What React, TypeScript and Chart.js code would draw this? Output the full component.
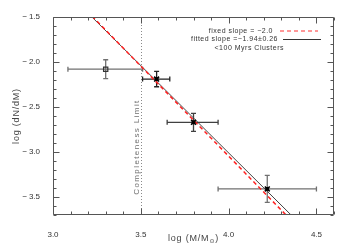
import { useEffect, useRef } from "react";
import { Chart, registerables } from "chart.js";

Chart.register(...registerables);

// ---- data ----
const clusterLogMass = [3.3, 3.59, 3.8, 4.22];
const clusterLogDNdM = [-2.08, -2.19, -2.67, -3.41];
const massErrLow = [3.085, 3.51, 3.65, 3.94];
const massErrHigh = [3.51, 3.665, 3.94, 4.5];
const dndmErr = [0.105, 0.085, 0.1, 0.15];
const errColors = ["#707070", "#222222", "#404040", "#707070"];
const openMarker = [true, false, false, false];

const fixedSlope = -2.0;
const fixedIntercept = 4.954;
const fittedSlope = -1.94;
const fittedIntercept = 4.75;
const completenessLimit = 3.5;

const xRange = [3.0, 4.6];
const yRange = [-3.7, -1.5];
const xTicks = [3.0, 3.5, 4.0, 4.5];
const yTicks = [-3.5, -3.0, -2.5, -2.0, -1.5];
const minorStep = 0.1;

const legendLabels = ["fixed slope = \u22122.0", "fitted slope =\u22121.94\u00b10.26", "<100 Myrs Clusters"];
const xTitleParts = ["log (M/M", "\u2299", ")"];
const yTitle = "log (dN/dM)";
const limitLabel = "Completeness Limit";

const FONT = "'Liberation Sans', 'DejaVu Sans', sans-serif";
const SYMFONT = "'DejaVu Sans', sans-serif";
const fmt = (v: number) => (v < 0 ? "\u2212\u2009" : "") + Math.abs(v).toFixed(1);

const decorPlugin = {
  id: "decor",
  beforeDatasetsDraw(chart: any) {
    const { ctx, chartArea, scales } = chart;
    const { top, bottom } = chartArea;
    const x = scales.x;
    const y = scales.y;
    ctx.save();
    // completeness limit
    const cx = Math.round(x.getPixelForValue(completenessLimit)) + 0.5;
    ctx.strokeStyle = "#8a8a8a";
    ctx.lineWidth = 1;
    ctx.setLineDash([1, 2]);
    ctx.beginPath();
    ctx.moveTo(cx, bottom);
    ctx.lineTo(cx, top);
    ctx.stroke();
    ctx.setLineDash([]);
    ctx.save();
    ctx.translate(cx - 5, (top + bottom) / 2 + 31);
    ctx.rotate(-Math.PI / 2);
    ctx.fillStyle = "#707070";
    ctx.font = `8px ${FONT}`;
    (ctx as any).letterSpacing = "1.4px";
    ctx.textAlign = "center";
    ctx.textBaseline = "middle";
    ctx.fillText(limitLabel, 0, 0);
    ctx.restore();
    // error bars
    for (let i = 0; i < clusterLogMass.length; i++) {
      ctx.strokeStyle = errColors[i];
      ctx.lineWidth = 1.3;
      const px = x.getPixelForValue(clusterLogMass[i]);
      const py = y.getPixelForValue(clusterLogDNdM[i]);
      const xl = x.getPixelForValue(massErrLow[i]);
      const xh = x.getPixelForValue(massErrHigh[i]);
      const yl = y.getPixelForValue(clusterLogDNdM[i] - dndmErr[i]);
      const yh = y.getPixelForValue(clusterLogDNdM[i] + dndmErr[i]);
      const c = 2.5;
      ctx.beginPath();
      ctx.moveTo(xl, py); ctx.lineTo(xh, py);
      ctx.moveTo(xl, py - c); ctx.lineTo(xl, py + c);
      ctx.moveTo(xh, py - c); ctx.lineTo(xh, py + c);
      ctx.moveTo(px, yl); ctx.lineTo(px, yh);
      ctx.moveTo(px - c, yl); ctx.lineTo(px + c, yl);
      ctx.moveTo(px - c, yh); ctx.lineTo(px + c, yh);
      ctx.stroke();
    }
    ctx.restore();
  },
  afterDraw(chart: any) {
    const { ctx, chartArea, scales } = chart;
    const { left, right, top, bottom } = chartArea;
    const x = scales.x;
    const y = scales.y;
    ctx.save();
    ctx.strokeStyle = "#555";
    ctx.lineWidth = 1;
    const L = Math.round(left) + 0.5, R = Math.round(right) - 0.5;
    const T = Math.round(top) + 0.5, B = Math.round(bottom) - 0.5;
    ctx.beginPath();
    ctx.rect(L, T, R - L, B - T);
    ctx.stroke();
    ctx.beginPath();
    const nx = Math.round((xRange[1] - xRange[0]) / minorStep);
    for (let k = 0; k <= nx; k++) {
      const v = xRange[0] + k * minorStep;
      const major = xTicks.some((t) => Math.abs(t - v) < 1e-6);
      const len = major ? 6 : 3;
      const p = Math.round(x.getPixelForValue(v)) + 0.5;
      ctx.moveTo(p, B); ctx.lineTo(p, B - len);
      ctx.moveTo(p, T); ctx.lineTo(p, T + len);
    }
    const ny = Math.round((yRange[1] - yRange[0]) / minorStep);
    for (let k = 0; k <= ny; k++) {
      const v = yRange[0] + k * minorStep;
      const major = yTicks.some((t) => Math.abs(t - v) < 1e-6);
      const len = major ? 6 : 3;
      const p = Math.round(y.getPixelForValue(v)) + 0.5;
      ctx.moveTo(L, p); ctx.lineTo(L + len, p);
      ctx.moveTo(R, p); ctx.lineTo(R - len, p);
    }
    ctx.stroke();

    // legend
    ctx.font = `7px ${FONT}`;
    (ctx as any).letterSpacing = "0.5px";
    ctx.fillStyle = "#333";
    ctx.textAlign = "right";
    ctx.textBaseline = "middle";
    const rows = [31, 39.5, 48];
    const textRight = [273, 278, 284];
    legendLabels.forEach((t, i) => ctx.fillText(t, textRight[i], rows[i]));
    ctx.strokeStyle = "#ff3030";
    ctx.setLineDash([4, 3]);
    ctx.beginPath(); ctx.moveTo(280, rows[0]); ctx.lineTo(318, rows[0]); ctx.stroke();
    ctx.setLineDash([]);
    ctx.strokeStyle = "#333";
    ctx.beginPath(); ctx.moveTo(283, rows[1]); ctx.lineTo(321, rows[1]); ctx.stroke();

    // axis titles
    (ctx as any).letterSpacing = "0.8px";
    ctx.fillStyle = "#444";
    ctx.textAlign = "left";
    ctx.textBaseline = "alphabetic";
    ctx.font = `9px ${FONT}`;
    const w0 = ctx.measureText(xTitleParts[0]).width;
    ctx.font = `6px ${SYMFONT}`;
    const w1 = ctx.measureText(xTitleParts[1]).width;
    ctx.font = `9px ${FONT}`;
    const w2 = ctx.measureText(xTitleParts[2]).width;
    const cxT = (left + right) / 2;
    let sx = cxT - (w0 + w1 + w2) / 2;
    const by = 241;
    ctx.fillText(xTitleParts[0], sx, by);
    sx += w0;
    ctx.font = `6px ${SYMFONT}`;
    ctx.fillText(xTitleParts[1], sx, by + 2);
    sx += w1;
    ctx.font = `9px ${FONT}`;
    ctx.fillText(xTitleParts[2], sx, by);

    ctx.save();
    ctx.translate(17, 116);
    ctx.rotate(-Math.PI / 2);
    ctx.textAlign = "center";
    ctx.textBaseline = "middle";
    ctx.fillText(yTitle, 0, 0);
    ctx.restore();
    ctx.restore();
  },
};

const lineX = [xRange[0], xRange[1]];

export default function App() {
  const ref = useRef<HTMLCanvasElement>(null);
  useEffect(() => {
    document.body.style.margin = "0";
    const filledIdx = clusterLogMass.map((_, i) => i).filter((i) => !openMarker[i]);
    const openIdx = clusterLogMass.map((_, i) => i).filter((i) => openMarker[i]);
    const chart = new Chart(ref.current!, {
      type: "scatter",
      data: {
        datasets: [
          {
            data: filledIdx.map((i) => ({ x: clusterLogMass[i], y: clusterLogDNdM[i] })),
            pointStyle: "rect",
            pointRadius: 2,
            backgroundColor: "#000",
            borderColor: "#000",
            borderWidth: 1,
            order: 0,
          },
          {
            data: filledIdx.map((i) => ({ x: clusterLogMass[i], y: clusterLogDNdM[i] })),
            pointStyle: "crossRot",
            pointRadius: 3.5,
            borderColor: "#000",
            borderWidth: 1.5,
            order: 1,
          },
          {
            data: openIdx.map((i) => ({ x: clusterLogMass[i], y: clusterLogDNdM[i] })),
            pointStyle: "rect",
            pointRadius: 3,
            backgroundColor: "rgba(0,0,0,0)",
            borderColor: "#333",
            borderWidth: 1.2,
            order: 2,
          },
          {
            type: "line",
            data: lineX.map((v) => ({ x: v, y: fixedIntercept + fixedSlope * v })),
            borderColor: "#ff2020",
            borderWidth: 1.5,
            borderDash: [4, 3],
            pointRadius: 0,
            showLine: true,
            order: 3,
          },
          {
            type: "line",
            data: lineX.map((v) => ({ x: v, y: fittedIntercept + fittedSlope * v })),
            borderColor: "#444",
            borderWidth: 1,
            pointRadius: 0,
            showLine: true,
            order: 4,
          },
        ] as any,
      },
      options: {
        animation: false,
        responsive: false,
        maintainAspectRatio: false,
        layout: { padding: { top: 17, right: 16, left: 0, bottom: 0 } },
        plugins: { legend: { display: false }, tooltip: { enabled: false } },
        scales: {
          x: {
            type: "linear",
            min: xRange[0],
            max: xRange[1],
            grid: { display: false },
            border: { display: false },
            afterBuildTicks: (s: any) => { s.ticks = xTicks.map((v) => ({ value: v })); },
            afterFit: (s: any) => { s.height = 35; },
            ticks: {
              autoSkip: false,
              maxRotation: 0,
              padding: 7,
              color: "#333",
              font: { family: FONT, size: 8 },
              callback: (v: any) => fmt(Number(v)),
            },
          },
          y: {
            type: "linear",
            min: yRange[0],
            max: yRange[1],
            grid: { display: false },
            border: { display: false },
            afterBuildTicks: (s: any) => { s.ticks = yTicks.map((v) => ({ value: v })); },
            afterFit: (s: any) => { s.width = 53; },
            ticks: {
              autoSkip: false,
              padding: 5,
              color: "#333",
              font: { family: FONT, size: 8 },
              callback: (v: any) => fmt(Number(v)),
            },
          },
        },
      } as any,
      plugins: [decorPlugin],
    });
    return () => chart.destroy();
  }, []);
  return (
    <div style={{ width: 350, height: 250 }}>
      <canvas ref={ref} width={350} height={250} style={{ display: "block" }} />
    </div>
  );
}
